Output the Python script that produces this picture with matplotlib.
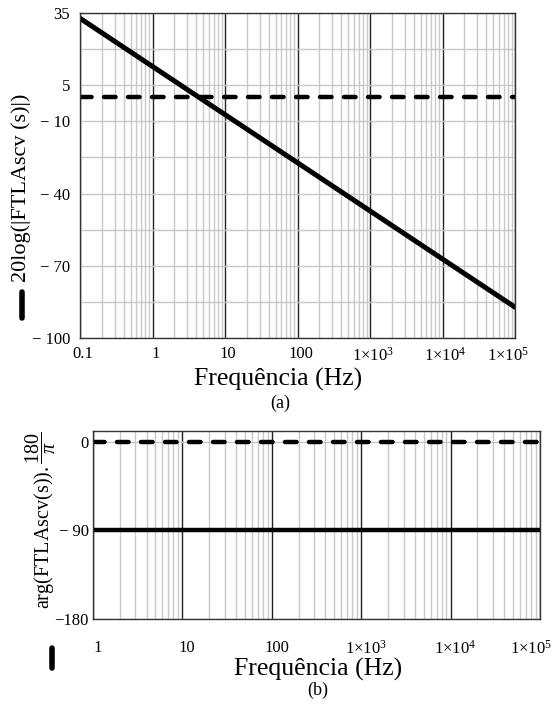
import matplotlib
matplotlib.use("Agg")
from matplotlib import pyplot as plt
from matplotlib.lines import Line2D
import matplotlib.transforms as mtransforms

plt.rcParams['font.family'] = ['Liberation Serif', 'DejaVu Serif']
plt.rcParams['mathtext.fontset'] = 'custom'
plt.rcParams['mathtext.rm'] = 'Liberation Serif'
plt.rcParams['mathtext.it'] = 'Liberation Serif:italic'
plt.rcParams['mathtext.bf'] = 'Liberation Serif:bold'

# (a) magnitude
freq_mag = [0.1, 1, 10, 100, 1e3, 1e4, 1e5]
mag_db = [32.8, 12.8, -7.2, -27.2, -47.2, -67.2, -87.2]
mag_ref_freq = [0.1, 1e5]
mag_ref_db = [0, 0]
mag_yticks = [-100, -85, -70, -55, -40, -25, -10, 5, 20, 35]
mag_yticklabels = ["\u2212 100", "", "\u2212 70", "", "\u2212 40", "", "\u2212 10", "5", "", "35"]
mag_xticks = [0.1, 1, 10, 100, 1e3, 1e4, 1e5]
mag_xticklabels = ["0.1", "1", "10", "100",
                   r"$1{\times}10^{3}$", r"$1{\times}10^{4}$", r"$1{\times}10^{5}$"]

# (b) phase
freq_ph = [1, 1e5]
phase_deg = [-90, -90]
phase_ref = [0, 0]
ph_yticks = [0, -90, -180]
ph_yticklabels = ["0", "\u2212 90", "\u2212180"]
ph_xticks = [1, 10, 100, 1e3, 1e4, 1e5]
ph_xticklabels = ["1", "10", "100",
                  r"$1{\times}10^{3}$", r"$1{\times}10^{4}$", r"$1{\times}10^{5}$"]

W, H = 552, 706
fig = plt.figure(figsize=(W / 100, H / 100), dpi=100)


def box(l, t, r, b):
    return [l / W, 1 - b / H, (r - l) / W, (b - t) / H]


def style(ax):
    ax.set_xscale('log')
    ax.tick_params(which='both', length=0, labelsize=12)
    ax.xaxis.grid(True, which='major', color='#222222', lw=1.0)
    ax.xaxis.grid(True, which='minor', color='#c8c8c8', lw=1.0)
    ax.yaxis.grid(True, which='major', color='#c8c8c8', lw=1.0)
    ax.set_axisbelow(True)
    for s in ax.spines.values():
        s.set_color('#333333')
        s.set_linewidth(1.0)


def shift_labels(ax, dx, last_dx):
    labs = ax.get_xticklabels()
    for i, lab in enumerate(labs):
        d = last_dx if i == len(labs) - 1 else dx
        off = mtransforms.ScaledTranslation(d * 0.72 / 72, 0, fig.dpi_scale_trans)
        lab.set_transform(lab.get_transform() + off)


ax1 = fig.add_axes(box(80, 13, 515, 338))
style(ax1)
ax1.plot(freq_mag, mag_db, color='black', lw=3.6, solid_capstyle='round')
ax1.plot(mag_ref_freq, mag_ref_db, color='black', lw=3.2,
         dashes=(2.6, 2.8), dash_capstyle='round')
ax1.set_xlim(0.1, 1e5)
ax1.set_ylim(-100, 35)
ax1.set_yticks(mag_yticks)
ax1.set_yticklabels(mag_yticklabels)
ax1.set_xticks(mag_xticks)
ax1.set_xticklabels(mag_xticklabels)
ax1.tick_params(axis='y', pad=7)
ax1.tick_params(axis='x', pad=6)
shift_labels(ax1, 3, -7)

ax2 = fig.add_axes(box(92.7, 430.7, 540, 619))
style(ax2)
ax2.plot(freq_ph, phase_deg, color='black', lw=3.2)
ax2.plot(freq_ph, phase_ref, color='black', lw=3.2,
         dashes=(2.6, 2.8), dash_capstyle='round')
ax2.set_xlim(1, 1e5)
ax2.set_ylim(-180, 11)
ax2.set_yticks(ph_yticks)
ax2.set_yticklabels(ph_yticklabels)
ax2.set_xticks(ph_xticks)
ax2.set_xticklabels(ph_xticklabels)
ax2.tick_params(axis='y', pad=3)
ax2.tick_params(axis='x', pad=15)
shift_labels(ax2, 5, -9)

# axis titles
fig.text(278 / W, 1 - 379 / H, "Frequência (Hz)", ha='center', va='center', fontsize=18.5)
fig.text(280 / W, 1 - 403 / H, "(a)", ha='center', va='center', fontsize=13)
fig.text(318 / W, 1 - 669 / H, "Frequência (Hz)", ha='center', va='center', fontsize=18.5)
fig.text(318 / W, 1 - 690 / H, "(b)", ha='center', va='center', fontsize=13)

fig.text(21 / W, 1 - 188 / H, "20log(|FTLAscv (s)|)", rotation=90,
         ha='center', va='center', fontsize=16)
fig.text(41 / W, 1 - 520 / H, r"arg(FTLAscv(s))$.\dfrac{180}{\pi}$", rotation=90,
         ha='center', va='center', fontsize=14.5)

# legend keys next to the y labels
fig.add_artist(Line2D([22 / W, 22 / W], [1 - 292 / H, 1 - 318 / H],
                      color='black', lw=4, solid_capstyle='round'))
fig.add_artist(Line2D([52 / W, 52 / W], [1 - 648 / H, 1 - 668 / H],
                      color='black', lw=4, solid_capstyle='round'))

fig.savefig("out.png", dpi=100)
